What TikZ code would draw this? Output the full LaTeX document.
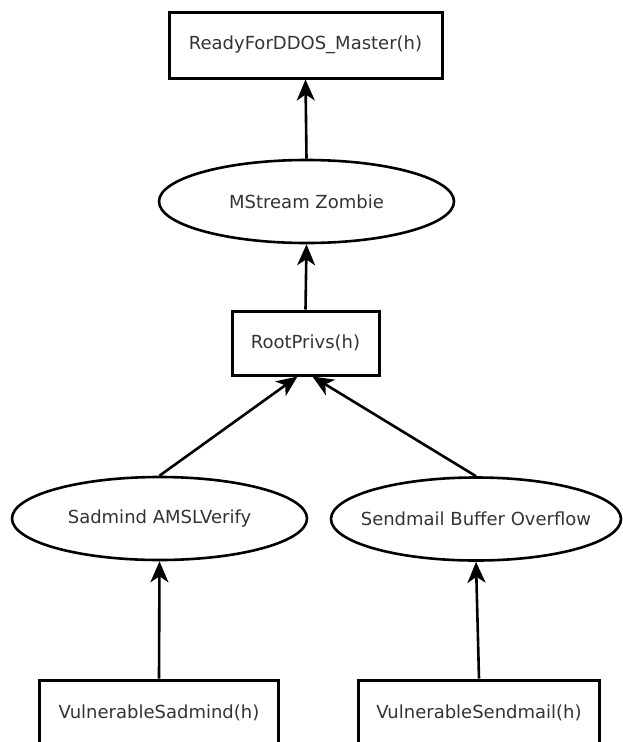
\documentclass[tikz,border=0pt]{standalone}
\usepackage{fontspec}
\setmainfont{DejaVu Sans}
\usetikzlibrary{shapes.geometric,arrows.meta}

\tikzset{
  factbox/.style={draw, rectangle, line width=3pt, inner sep=0pt},
  exploit/.style={draw, ellipse, line width=2.6pt, inner xsep=-30pt, inner ysep=0pt},
  leadsto/.style={line width=2.6pt, -{Stealth[length=21pt,width=18pt,inset=6pt]}}
}

\begin{document}
\begin{tikzpicture}[x=1pt, y=-1pt, font=\fontsize{18}{21}\selectfont, text=black!80]
			%%%%% START %%%%%
			\useasboundingbox (0, 0) rectangle (623, 742);
			\clip (0, 0) rectangle (623, 742);
			
			\node[factbox, minimum width=273pt, minimum height=66pt] (master) at (305.5, 45) {ReadyForDDOS\_Master(h)};
			\node[exploit, minimum width=295pt, minimum height=83pt] (zombie) at (306.5, 201.5) {MStream Zombie};
			\node[factbox, minimum width=147pt, minimum height=64pt] (root) at (305.5, 343) {RootPrivs(h)};
			
			\node[exploit, minimum width=295pt, minimum height=83pt] (sadmind) at (159.5, 518.5) {Sadmind AMSLVerify};
			\node[exploit, minimum width=290pt, minimum height=83pt] (sendmail) at (476, 519) {Sendmail Buffer Overflow};
			
			\node[factbox, minimum width=239pt, minimum height=66pt] (vsadmind) at (159, 713) {VulnerableSadmind(h)};
			\node[factbox, minimum width=241pt, minimum height=66pt] (vsendmail) at (479, 713) {VulnerableSendmail(h)};
			
			\draw[leadsto] (zombie.north) -- (master.south);
			\draw[leadsto] (root.north) -- (zombie.south);
			\draw[leadsto] (sadmind.north) -- ([xshift=-8pt]root.south);
			\draw[leadsto] (sendmail.north) -- ([xshift=7pt]root.south);
			\draw[leadsto] (vsadmind.north) -- (sadmind.south);
			\draw[leadsto] (vsendmail.north) -- (sendmail.south);
			
			%%%%% END %%%%%
		\end{tikzpicture}
\end{document}
